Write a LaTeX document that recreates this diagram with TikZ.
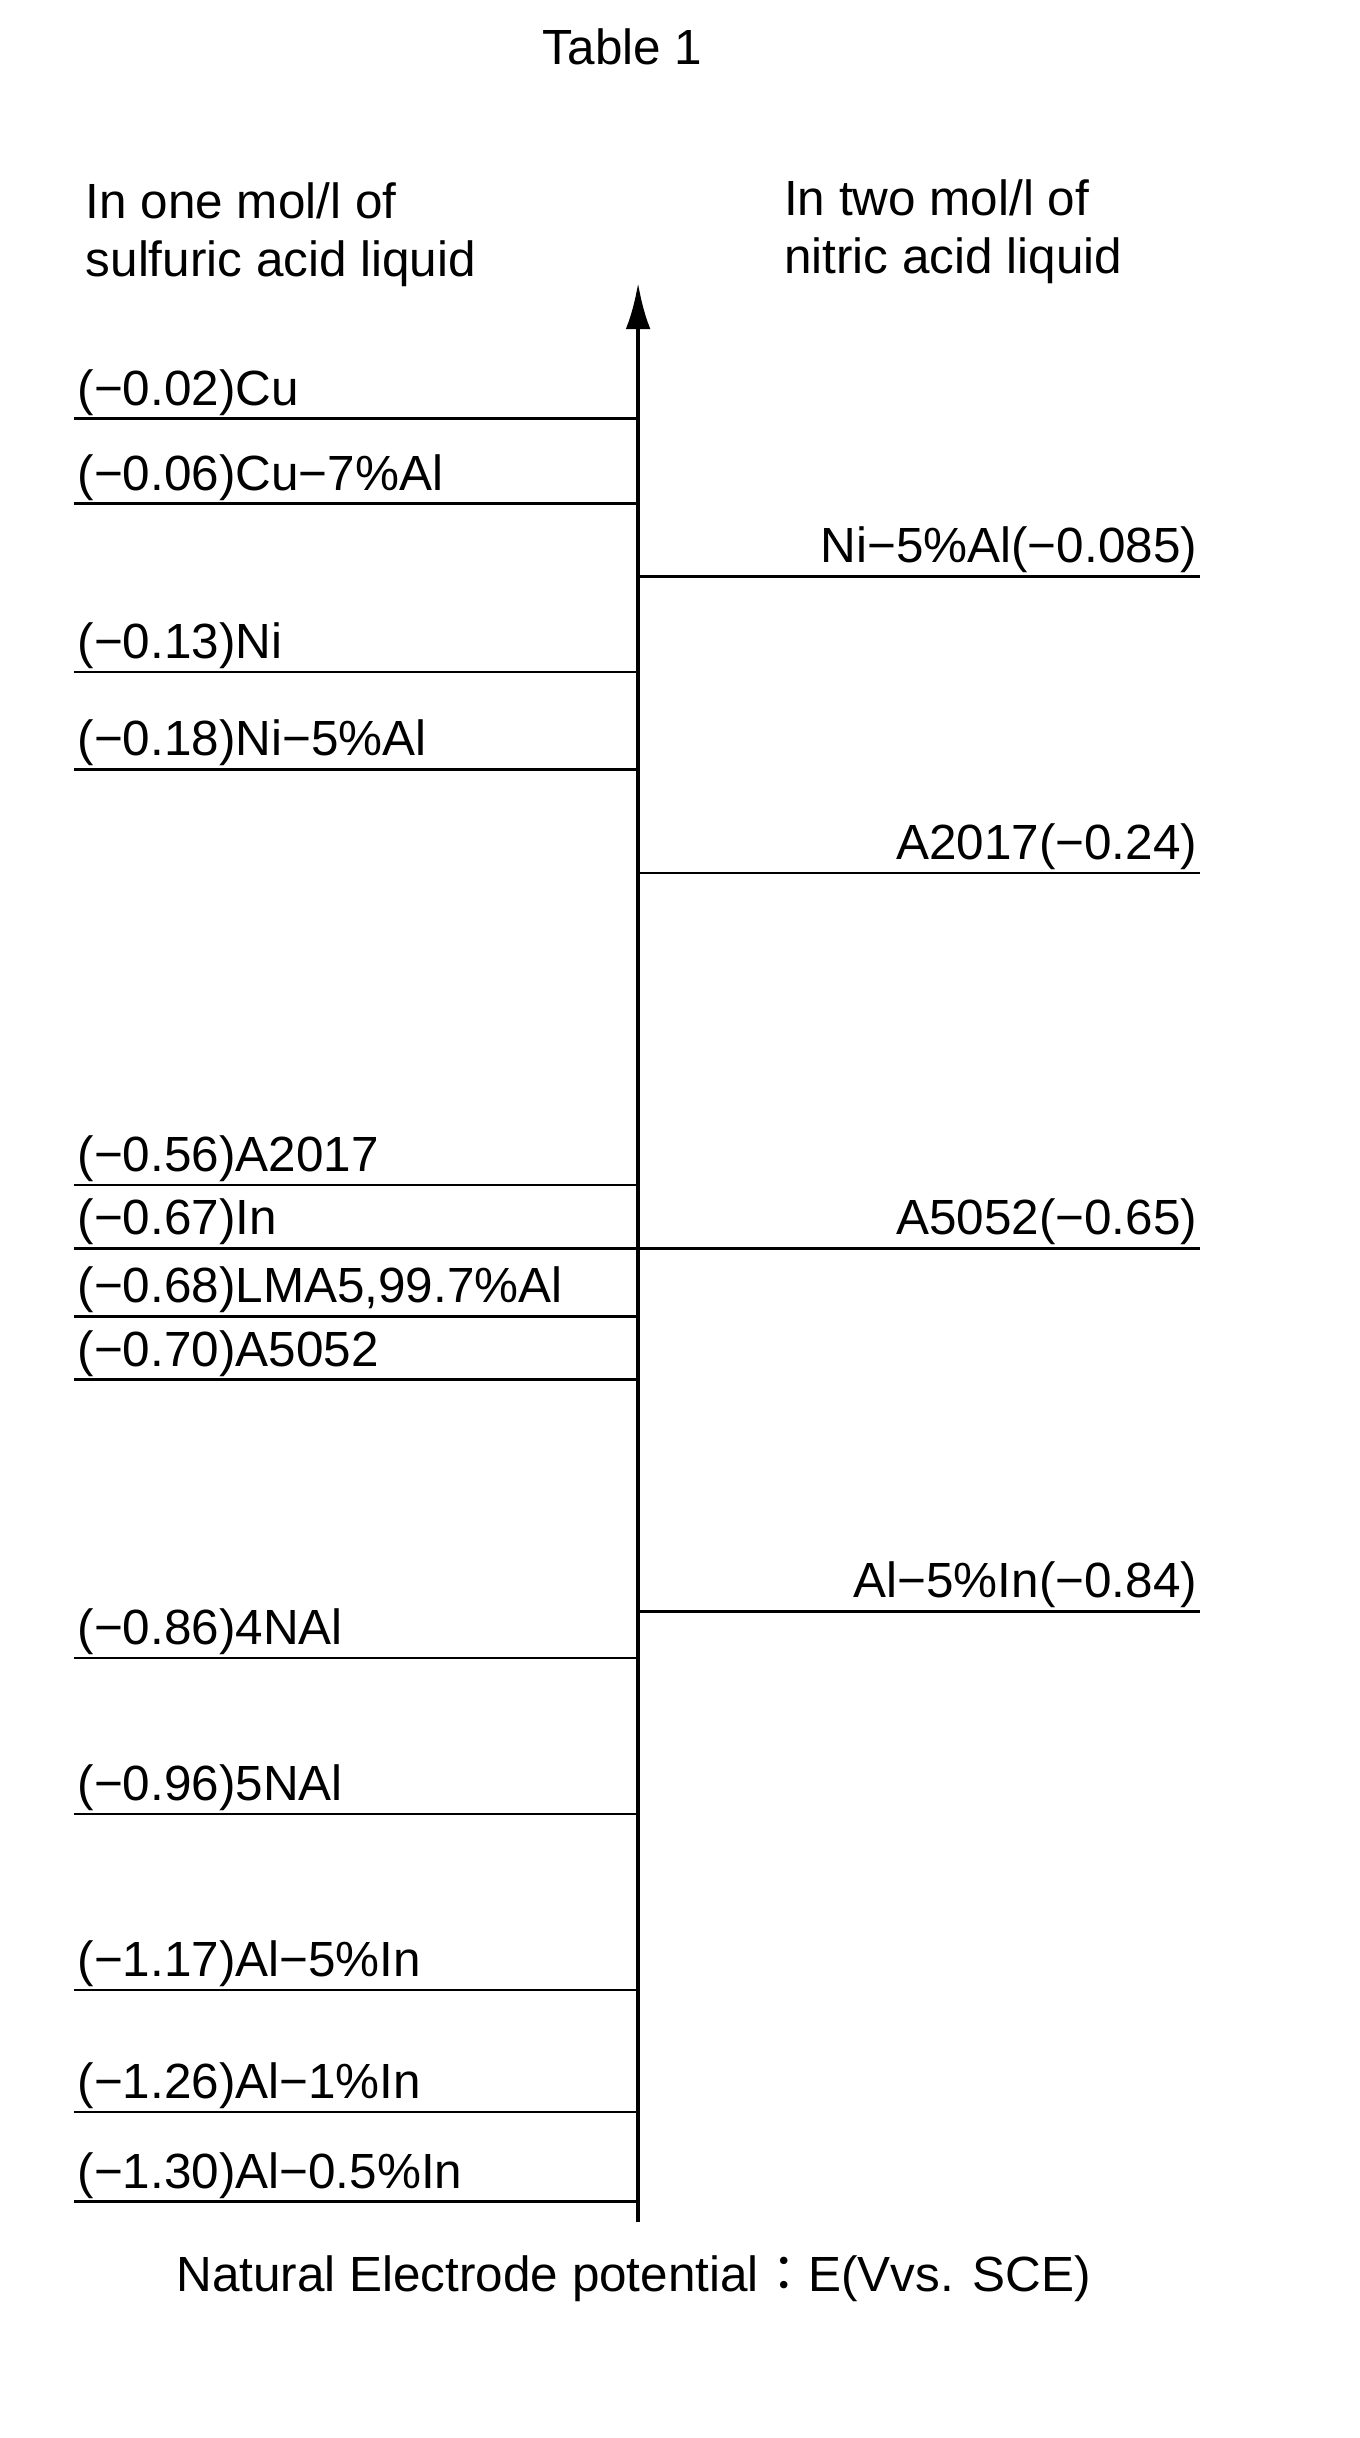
\documentclass[tikz,border=0pt]{standalone}
\usepackage{fontspec}
\setmainfont{Liberation Sans}
\newfontfamily\cjk{Noto Sans CJK JP}
\usetikzlibrary{positioning,arrows.meta}

\begin{document}
\begin{tikzpicture}[x=1pt, y=-1pt, font=\fontsize{32}{38}\selectfont,
	lt/.style={anchor=south west, inner sep=2pt},
	rt/.style={anchor=south east, inner sep=2pt},
	ln/.style={line width=1.6pt}]
	\useasboundingbox (0,0) rectangle (880,1578);
	\node (title) at (403,30) {Table 1};
	\node[anchor=west, align=left] (left_head) at (52,152) {In one mol/l of\\sulfuric acid liquid};
	\node[anchor=west, align=left] (right_head) at (504,150) {In two mol/l of\\nitric acid liquid};
	\node (axis_label) at (410,1475) {Natural Electrode potential{\cjk ：}E(Vvs. SCE)};

	% axis
	\coordinate (bot) at (413,1438);
	\coordinate (top) at (413,183);
	\draw[line width=3pt, -{Latex[length=30pt, width=16pt]}] (bot) -- (top);

	% sulfuric acid side
	\foreach \y/\t [count=\i] in {271/{(−0.02)Cu}, 326/{(−0.06)Cu−7\%Al}, 435/{(−0.13)Ni}, 498/{(−0.18)Ni−5\%Al}, 767/{(−0.56)A2017}, 808/{(−0.67)In}, 852/{(−0.68)LMA5,99.7\%Al}, 893/{(−0.70)A5052}, 1073/{(−0.86)4NAl}, 1174/{(−0.96)5NAl}, 1288/{(−1.17)Al−5\%In}, 1367/{(−1.26)Al−1\%In}, 1425/{(−1.30)Al−0.5\%In}}
	{
		\coordinate (L\i) at (48,\y);
		\coordinate (LA\i) at (413,\y);
		\draw[ln] (L\i) -- (LA\i);
		\node[lt] (L\i_label) at (L\i) {\t};
	}

	% nitric acid side
	\foreach \y/\t [count=\i] in {373/{Ni−5\%Al(−0.085)}, 565/{A2017(−0.24)}, 808/{A5052(−0.65)}, 1043/{Al−5\%In(−0.84)}}
	{
		\coordinate (RA\i) at (413,\y);
		\coordinate (R\i) at (777,\y);
		\draw[ln] (RA\i) -- (R\i);
		\node[rt] (R\i_label) at (R\i) {\t};
	}
\end{tikzpicture}
\end{document}
